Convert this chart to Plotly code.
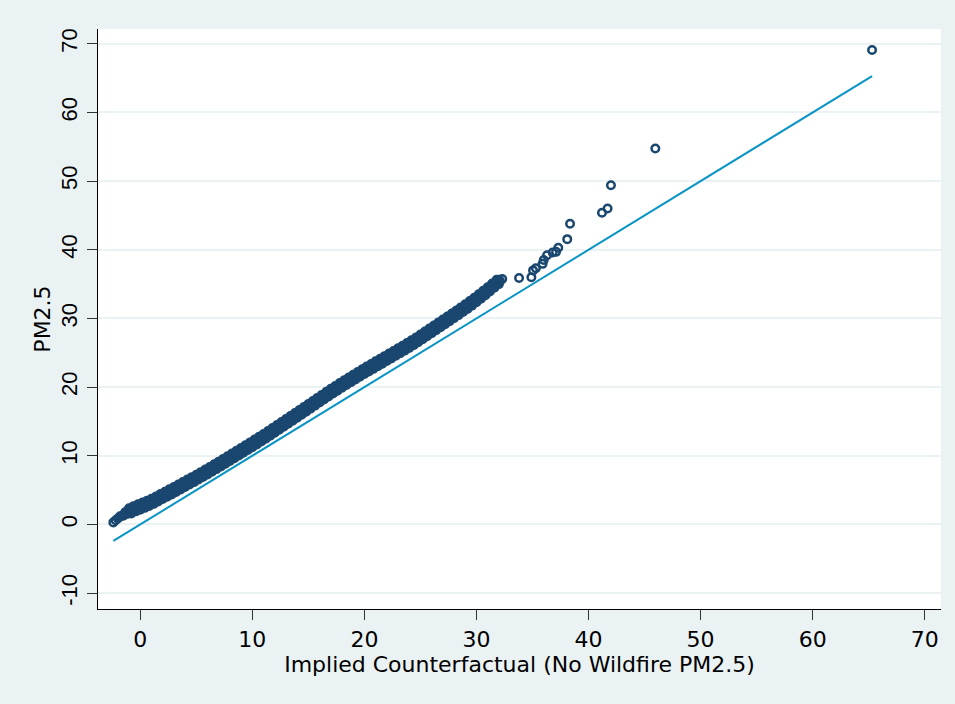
import plotly.graph_objects as go

# Implied counterfactual (no-wildfire PM2.5) -- x values
counterfactual = [
    # dense band (centre)
    -2.4, -2.2, -2.0, -1.8, -1.6, -1.4, -1.2, -1.0, -0.8, -0.6, -0.4, -0.2,
    0.0, 0.2, 0.4, 0.6, 0.8, 1.0, 1.2, 1.4, 1.6, 1.8, 2.0, 2.2,
    2.4, 2.6, 2.8, 3.0, 3.2, 3.4, 3.6, 3.8, 4.0, 4.2, 4.4, 4.6,
    4.8, 5.0, 5.2, 5.4, 5.6, 5.8, 6.0, 6.2, 6.4, 6.6, 6.8, 7.0,
    7.2, 7.4, 7.6, 7.8, 8.0, 8.2, 8.4, 8.6, 8.8, 9.0, 9.2,
    9.4, 9.6, 9.8, 10.0, 10.2, 10.4, 10.6, 10.8, 11.0, 11.2,
    11.4, 11.6, 11.8, 12.0, 12.2, 12.4, 12.6, 12.8, 13.0, 13.2,
    13.4, 13.6, 13.8, 14.0, 14.2, 14.4, 14.6, 14.8, 15.0, 15.2,
    15.4, 15.6, 15.8, 16.0, 16.2, 16.4, 16.6, 16.8, 17.0, 17.2,
    17.4, 17.6, 17.8, 18.0, 18.2, 18.4, 18.6, 18.8, 19.0, 19.2,
    19.4, 19.6, 19.8, 20.0, 20.2, 20.4, 20.6, 20.8, 21.0, 21.2,
    21.4, 21.6, 21.8, 22.0, 22.2, 22.4, 22.6, 22.8, 23.0, 23.2,
    23.4, 23.6, 23.8, 24.0, 24.2, 24.4, 24.6, 24.8, 25.0, 25.2,
    25.4, 25.6, 25.8, 26.0, 26.2, 26.4, 26.6, 26.8, 27.0, 27.2,
    27.4, 27.6, 27.8, 28.0, 28.2, 28.4, 28.6, 28.8, 29.0, 29.2,
    29.4, 29.6, 29.8, 30.0, 30.2, 30.4, 30.6, 30.8, 31.0, 31.2,
    31.4, 31.6, 31.8, 32.0, 32.3,
    # dense band (in-between observations)
    -1.5, -1.3, -1.1, -0.9, -0.7, -0.5, -0.3, -0.1,
    0.1, 0.3, 0.5, 0.7, 0.9, 1.1, 1.3, 1.5, 1.7, 1.9,
    2.1, 2.3, 2.5, 2.7, 2.9, 3.1, 3.3, 3.5, 3.7, 3.9,
    4.1, 4.3, 4.5, 4.7, 4.9, 5.1, 5.3, 5.5, 5.7, 5.9,
    6.1, 6.3, 6.5, 6.7, 6.9, 7.1, 7.3, 7.5, 7.7, 7.9,
    8.1, 8.3, 8.5, 8.7, 8.9, 9.1, 9.3, 9.5, 9.7, 9.9,
    10.1, 10.3, 10.5, 10.7, 10.9, 11.1, 11.3, 11.5, 11.7, 11.9,
    12.1, 12.3, 12.5, 12.7, 12.9, 13.1, 13.3, 13.5, 13.7, 13.9,
    14.1, 14.3, 14.5, 14.7, 14.9, 15.1, 15.3, 15.5, 15.7, 15.9,
    16.1, 16.3, 16.5, 16.7, 16.9, 17.1, 17.3, 17.5, 17.7, 17.9,
    18.1, 18.3, 18.5, 18.7, 18.9, 19.1, 19.3, 19.5, 19.7, 19.9,
    20.1, 20.3, 20.5, 20.7, 20.9, 21.1, 21.3, 21.5, 21.7, 21.9,
    22.1, 22.3, 22.5, 22.7, 22.9, 23.1, 23.3, 23.5, 23.7, 23.9,
    24.1, 24.3, 24.5, 24.7, 24.9, 25.1, 25.3, 25.5, 25.7, 25.9,
    26.1, 26.3, 26.5, 26.7, 26.9, 27.1, 27.3, 27.5, 27.7, 27.9,
    28.1, 28.3, 28.5, 28.7, 28.9, 29.1, 29.3, 29.5, 29.7, 29.9,
    30.1, 30.3, 30.5, 30.7, 30.9, 31.1, 31.3, 31.5, 31.7, 31.9,
    32.1,
    # dense band (upper edge)
    -1.0, -0.6, -0.2, 0.2, 0.6, 1.0, 1.4, 1.8, 2.2, 2.6,
    3.0, 3.4, 3.8, 4.2, 4.6, 5.0, 5.4, 5.8, 6.2, 6.6,
    7.0, 7.4, 7.8, 8.2, 8.6, 9.0, 9.4, 9.8, 10.2, 10.6,
    11.0, 11.4, 11.8, 12.2, 12.6, 13.0, 13.4, 13.8, 14.2, 14.6,
    15.0, 15.4, 15.8, 16.2, 16.6, 17.0, 17.4, 17.8, 18.2, 18.6,
    19.0, 19.4, 19.8, 20.2, 20.6, 21.0, 21.4, 21.8, 22.2, 22.6,
    23.0, 23.4, 23.8, 24.2, 24.6, 25.0, 25.4, 25.8, 26.2, 26.6,
    27.0, 27.4, 27.8, 28.2, 28.6, 29.0, 29.4, 29.8, 30.2, 30.6,
    31.0, 31.4, 31.8,
    # dense band (lower edge)
    -0.8, -0.4, 0.0, 0.4, 0.8, 1.2, 1.6, 2.0, 2.4, 2.8,
    3.2, 3.6, 4.0, 4.4, 4.8, 5.2, 5.6, 6.0, 6.4, 6.8,
    7.2, 7.6, 8.0, 8.4, 8.8, 9.2, 9.6, 10.0, 10.4, 10.8,
    11.2, 11.6, 12.0, 12.4, 12.8, 13.2, 13.6, 14.0, 14.4, 14.8,
    15.2, 15.6, 16.0, 16.4, 16.8, 17.2, 17.6, 18.0, 18.4, 18.8,
    19.2, 19.6, 20.0, 20.4, 20.8, 21.2, 21.6, 22.0, 22.4, 22.8,
    23.2, 23.6, 24.0, 24.4, 24.8, 25.2, 25.6, 26.0, 26.4, 26.8,
    27.2, 27.6, 28.0, 28.4, 28.8, 29.2, 29.6, 30.0, 30.4, 30.8,
    31.2, 31.6, 32.0,
    # sparse upper tail
    33.8, 34.9, 35.05, 35.3, 35.9, 36.0, 36.3, 36.8, 37.1, 37.3, 38.1, 38.35,
    41.2, 41.7, 42.0, 45.96, 65.3,
]

pm25 = [
    # dense band (centre)
    0.30, 0.62, 0.88, 1.20, 1.28, 1.62, 1.65, 2.00, 1.96, 2.35, 2.20, 2.60,
    2.80, 2.54, 2.92, 2.76, 3.39, 3.23, 3.55, 3.48, 4.00, 3.78, 4.20, 4.07,
    4.74, 4.61, 4.93, 4.85, 5.38, 5.16, 5.59, 5.47, 6.15, 6.03, 6.36, 6.29,
    6.82, 6.60, 7.04, 6.92, 7.61, 7.49, 7.83, 7.77, 8.32, 8.11, 8.56, 8.45,
    9.15, 9.05, 9.40, 9.35, 9.90, 9.70, 10.15, 10.05, 10.75, 10.65, 11.00,
    10.95, 11.50, 11.30, 11.75, 11.66, 12.36, 12.27, 12.62, 12.58, 13.14,
    12.96, 13.42, 13.34, 14.05, 13.97, 14.34, 14.31, 14.88, 14.70, 15.17,
    15.09, 15.81, 15.73, 16.10, 16.07, 16.64, 16.46, 16.93, 16.85, 17.57,
    17.49, 17.86, 17.83, 18.40, 18.22, 18.69, 18.61, 19.33, 19.25, 19.61,
    19.57, 20.13, 19.94, 20.40, 20.30, 21.00, 20.90, 21.25, 21.20, 21.75,
    21.55, 22.00, 21.90, 22.60, 22.49, 22.83, 22.77, 23.31, 23.10, 23.54,
    23.43, 24.12, 24.01, 24.35, 24.29, 24.83, 24.62, 25.06, 24.95, 25.64,
    25.53, 25.87, 25.81, 26.35, 26.16, 26.62, 26.53, 27.24, 27.15, 27.52,
    27.49, 28.06, 27.88, 28.35, 28.27, 28.99, 28.91, 29.28, 29.25, 29.82,
    29.64, 30.11, 30.03, 30.75, 30.67, 31.04, 31.01, 31.58, 31.40, 31.89,
    31.83, 32.57, 32.51, 32.90, 32.91, 33.52, 33.38, 33.89, 33.85, 34.62,
    34.59, 35.01, 35.03, 35.65, 35.75,
    # dense band (in-between observations)
    1.29, 1.83, 1.56, 2.08, 2.09, 2.54, 2.22, 2.59,
    2.52, 3.01, 2.69, 3.18, 3.16, 3.62, 3.34, 3.77, 3.74, 4.27,
    3.99, 4.51, 4.53, 5.00, 4.72, 5.14, 5.12, 5.65, 5.38, 5.91,
    5.94, 6.42, 6.15, 6.58, 6.56, 7.10, 6.83, 7.37, 7.40, 7.89,
    7.63, 8.07, 8.07, 8.61, 8.36, 8.90, 8.95, 9.45, 9.20, 9.65,
    9.65, 10.20, 9.95, 10.50, 10.55, 11.05, 10.80, 11.25, 11.25, 11.80,
    11.56, 12.11, 12.17, 12.67, 12.43, 12.89, 12.90, 13.47, 13.23, 13.80,
    13.86, 14.38, 14.15, 14.62, 14.64, 15.21, 14.98, 15.55, 15.62, 16.14,
    15.91, 16.38, 16.40, 16.97, 16.74, 17.31, 17.38, 17.90, 17.67, 18.14,
    18.16, 18.73, 18.50, 19.07, 19.14, 19.66, 19.42, 19.88, 19.89, 20.45,
    20.20, 20.75, 20.80, 21.30, 21.05, 21.50, 21.50, 22.05, 21.80, 22.35,
    22.40, 22.89, 22.63, 23.07, 23.06, 23.60, 23.34, 23.88, 23.92, 24.41,
    24.15, 24.59, 24.58, 25.12, 24.86, 25.40, 25.44, 25.93, 25.67, 26.11,
    26.11, 26.67, 26.43, 26.99, 27.05, 27.56, 27.33, 27.80, 27.82, 28.39,
    28.16, 28.73, 28.80, 29.32, 29.09, 29.56, 29.58, 30.15, 29.92, 30.49,
    30.56, 31.08, 30.85, 31.32, 31.34, 31.92, 31.71, 32.30, 32.39, 32.93,
    32.73, 33.24, 33.30, 33.91, 33.72, 34.34, 34.46, 35.03, 34.85, 35.37,
    35.41,
    # dense band (upper edge)
    2.35, 2.67, 2.93, 3.19, 3.46, 3.73, 4.08, 4.43, 4.77, 5.11,
    5.45, 5.81, 6.17, 6.53, 6.89, 7.25, 7.62, 7.99, 8.37, 8.76,
    9.15, 9.55, 9.95, 10.35, 10.75, 11.15, 11.55, 11.95, 12.36, 12.77,
    13.18, 13.61, 14.04, 14.47, 14.91, 15.35, 15.79, 16.23, 16.67, 17.11,
    17.55, 17.99, 18.43, 18.87, 19.31, 19.75, 20.17, 20.59, 21.00, 21.40,
    21.80, 22.20, 22.60, 22.99, 23.37, 23.75, 24.13, 24.51, 24.89, 25.27,
    25.65, 26.03, 26.41, 26.81, 27.23, 27.65, 28.09, 28.53, 28.97, 29.41,
    29.85, 30.29, 30.73, 31.17, 31.61, 32.05, 32.53, 33.01, 33.51, 34.03,
    34.55, 35.09, 35.63,
    # dense band (lower edge)
    1.61, 1.91, 2.15, 2.42, 2.69, 3.00, 3.35, 3.70, 4.04, 4.38,
    4.73, 5.09, 5.45, 5.81, 6.17, 6.54, 6.91, 7.28, 7.67, 8.06,
    8.45, 8.85, 9.25, 9.65, 10.05, 10.45, 10.85, 11.25, 11.66, 12.07,
    12.49, 12.92, 13.35, 13.79, 14.23, 14.67, 15.11, 15.55, 15.99, 16.43,
    16.87, 17.31, 17.75, 18.19, 18.63, 19.06, 19.48, 19.90, 20.30, 20.70,
    21.10, 21.50, 21.90, 22.28, 22.66, 23.04, 23.42, 23.80, 24.18, 24.56,
    24.94, 25.32, 25.70, 26.12, 26.54, 26.97, 27.41, 27.85, 28.29, 28.73,
    29.17, 29.61, 30.05, 30.49, 30.93, 31.39, 31.87, 32.35, 32.87, 33.39,
    33.92, 34.46, 35.00,
    # sparse upper tail
    35.9, 36.0, 37.0, 37.3, 37.95, 38.5, 39.2, 39.6, 39.7, 40.3, 41.55, 43.8,
    45.4, 46.0, 49.4, 54.75, 69.1,
]
assert len(counterfactual) == len(pm25)

# 45-degree reference line (PM2.5 = counterfactual) over the range of x
line_x = [-2.4, 65.3]
line_y = [-2.4, 65.3]

x_ticks = [0, 10, 20, 30, 40, 50, 60, 70]
y_ticks = [-10, 0, 10, 20, 30, 40, 50, 60, 70]
y_tick_labels = ["-10", "0", "10", "20", "30", "40", "50", "60", "70"]

BG = "#eaf2f3"
NAVY = "#1a476f"
LINE_BLUE = "#0a94c6"
WIDE = "DejaVu Sans, Verdana, sans-serif"
ARIAL = "Liberation Sans, Arial, Helvetica, sans-serif"

fig = go.Figure()
fig.add_trace(go.Scatter(
    x=counterfactual, y=pm25, mode="markers",
    marker=dict(symbol="circle-open", size=7.5, color=NAVY,
                line=dict(width=2.5, color=NAVY)),
    showlegend=False, hoverinfo="skip",
))
fig.add_trace(go.Scatter(
    x=line_x, y=line_y, mode="lines",
    line=dict(color=LINE_BLUE, width=2),
    showlegend=False, hoverinfo="skip",
))

fig.update_layout(
    width=955, height=704,
    paper_bgcolor=BG, plot_bgcolor="white",
    margin=dict(l=98, r=14, t=29, b=95),
    font=dict(family=WIDE, size=22, color="black"),
    showlegend=False,
)
fig.update_xaxes(
    range=[-3.77, 71.45], tickvals=x_ticks,
    ticks="outside", ticklen=10, tickwidth=1, tickcolor="#333333",
    showline=True, linecolor="black", linewidth=1.3,
    showgrid=False, zeroline=False,
    tickfont=dict(family=WIDE, size=22),
    title=dict(text="Implied Counterfactual (No Wildfire PM2.5)",
               font=dict(family=WIDE, size=22), standoff=0),
)
fig.update_yaxes(
    range=[-12.31, 72.15], tickvals=y_ticks, ticktext=y_tick_labels,
    tickangle=-90, ticklabelstandoff=1,
    ticks="outside", ticklen=10, tickwidth=1, tickcolor="#333333",
    showline=True, linecolor="black", linewidth=1.3,
    showgrid=True, gridcolor=BG, gridwidth=2, zeroline=False,
    tickfont=dict(family=ARIAL, size=22),
    title=dict(text="PM2.5", font=dict(family=WIDE, size=22), standoff=0),
)

fig.write_html("out.html", config={"displayModeBar": False},
               post_script="document.body.style.margin='0';")
